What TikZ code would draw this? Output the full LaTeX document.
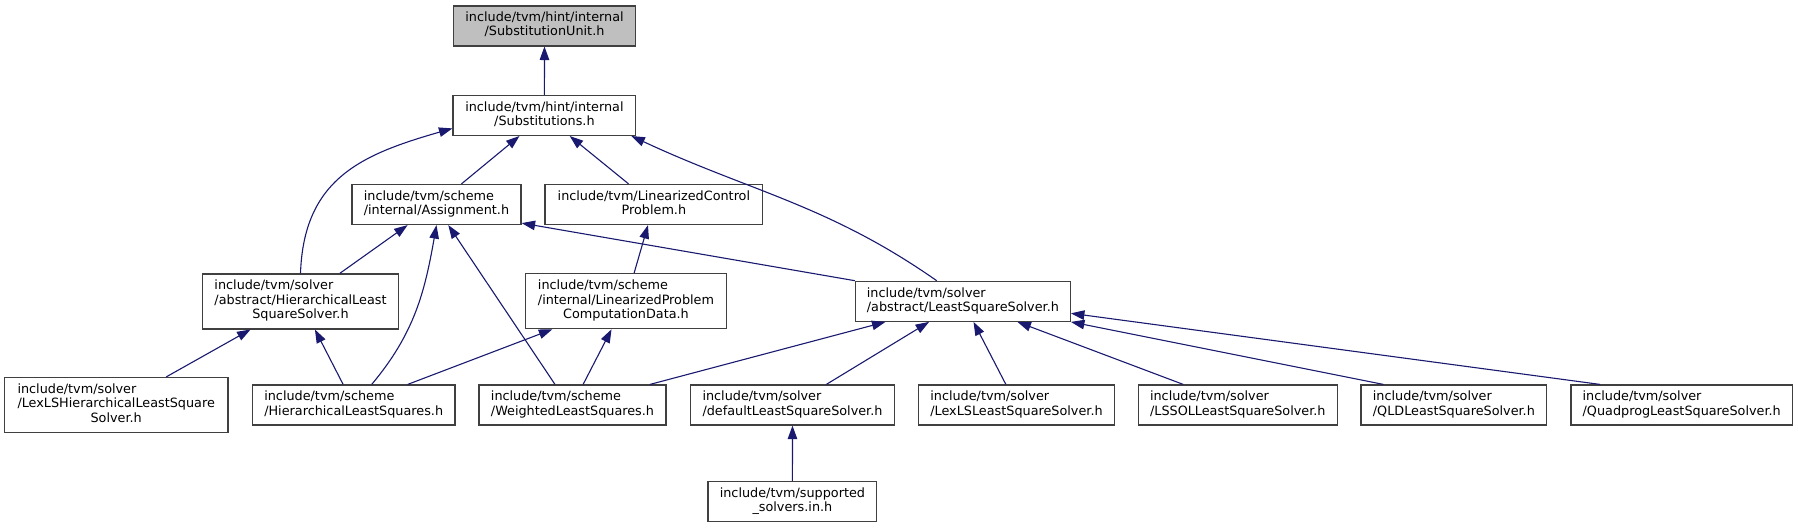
\documentclass[tikz,border=0pt]{standalone}
\usepackage{fontspec}
\setmainfont{DejaVu Sans}
\usetikzlibrary{arrows.meta, positioning, calc}
\definecolor{edgeblue}{HTML}{191970}
\definecolor{curgray}{HTML}{BFBFBF}
\newcommand{\twol}[2]{\begin{tabular}{@{}l@{}}#1\\\multicolumn{1}{@{}c@{}}{#2}\end{tabular}}
\newcommand{\threel}[3]{\begin{tabular}{@{}l@{}}#1\\#2\\\multicolumn{1}{@{}c@{}}{#3}\end{tabular}}
\tikzset{
  file/.style={draw=black!75, line width=1.2pt, fill=white, inner sep=0pt, minimum height=40pt,
    font=\fontsize{12.8}{14.3}\selectfont},
  tall/.style={minimum height=55pt},
  cur/.style={fill=curgray},
  dep/.style={-{Triangle[length=13.5pt, width=9.5pt]}, draw=edgeblue, line width=1.1pt},
}

\begin{document}
\begin{tikzpicture}[x=1pt, y=-1pt]
    \path[fill=white, use as bounding box] (0,0) rectangle (1798,528);
    \node[file, cur, minimum width=182.4pt] (unit) at (544.5,25.9) {\twol{include/tvm/hint/internal}{/SubstitutionUnit.h}};
    \node[file, minimum width=182.7pt] (subs) at (544.4,115.4) {\twol{include/tvm/hint/internal}{/Substitutions.h}};
    \node[file, minimum width=169pt] (assign) at (436.5,204.5) {\twol{include/tvm/scheme}{/internal/Assignment.h}};
    \node[file, minimum width=217.7pt] (lincp) at (653.9,204.5) {\twol{include/tvm/LinearizedControl}{Problem.h}};
    \node[file, tall, minimum width=196.4pt] (hlss) at (300.5,301.4) {\threel{include/tvm/solver}{/abstract/HierarchicalLeast}{SquareSolver.h}};
    \node[file, tall, minimum width=201.4pt] (lpcd) at (626,301.2) {\threel{include/tvm/scheme}{/internal/LinearizedProblem}{ComputationData.h}};
    \node[file, minimum width=214.8pt] (lss) at (962.9,301.3) {\twol{include/tvm/solver}{/abstract/LeastSquareSolver.h}};
    \node[file, tall, minimum width=223.7pt] (lexhls) at (116.2,405) {\threel{include/tvm/solver}{/LexLSHierarchicalLeastSquare}{Solver.h}};
    \node[file, minimum width=202.7pt] (hlsq) at (353.7,405) {\twol{include/tvm/scheme}{/HierarchicalLeastSquares.h}};
    \node[file, minimum width=187pt] (wls) at (572.5,405) {\twol{include/tvm/scheme}{/WeightedLeastSquares.h}};
    \node[file, minimum width=203.6pt] (dflt) at (792.5,405) {\twol{include/tvm/solver}{/defaultLeastSquareSolver.h}};
    \node[file, minimum width=196.4pt] (lexls) at (1016.5,405) {\twol{include/tvm/solver}{/LexLSLeastSquareSolver.h}};
    \node[file, minimum width=199pt] (lssol) at (1237.8,405) {\twol{include/tvm/solver}{/LSSOLLeastSquareSolver.h}};
    \node[file, minimum width=185.7pt] (qld) at (1453.9,405) {\twol{include/tvm/solver}{/QLDLeastSquareSolver.h}};
    \node[file, minimum width=221.3pt] (qp) at (1681.7,405) {\twol{include/tvm/solver}{/QuadprogLeastSquareSolver.h}};
    \node[file, minimum width=168.7pt] (supp) at (792.4,501.5) {\twol{include/tvm/supported}{\_solvers.in.h}};
    \draw[dep] (subs) -- (unit);
    \draw[dep] (assign) -- (subs);
    \draw[dep] (lincp) -- (subs);
    \draw[dep] (hlss.north) to[out=88, in=196, looseness=1.15] ([yshift=-13pt]subs.west);
    \draw[dep] ([xshift=-26.2pt]lss.north) to[out=145, in=-25] ([xshift=-5pt]subs.south east);
    \draw[dep] (hlss) -- (assign);
    \draw[dep] ([xshift=18pt]hlsq.north) to[out=50, in=260] (assign.south);
    \draw[dep] ([xshift=-17.5pt]wls.north) -- ([xshift=11.8pt]assign.south);
    \draw[dep] (lss.north west) -- ([yshift=2pt]assign.south east);
    \draw[dep] (lpcd) -- (lincp);
    \draw[dep] (hlsq) -- (hlss);
    \draw[dep] (lexhls) -- (hlss);
    \draw[dep] (hlsq) -- (lpcd);
    \draw[dep] (wls) -- (lpcd);
    \draw[dep] (wls) -- (lss);
    \draw[dep] (dflt) -- (lss);
    \draw[dep] (lexls) -- (lss);
    \draw[dep] (lssol) -- (lss);
    \draw[dep] ([xshift=-70.5pt]qld.north) -- (lss.south east);
    \draw[dep] ([xshift=-81.7pt]qp.north) -- ([yshift=-12pt]lss.east);
    \draw[dep] (supp) -- (dflt);
  \end{tikzpicture}
\end{document}
